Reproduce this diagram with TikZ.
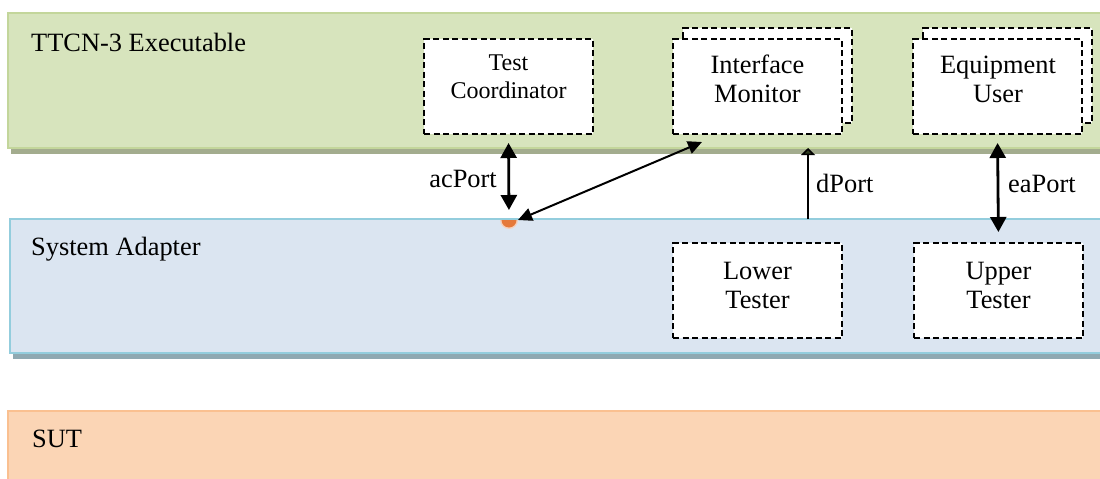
\documentclass[tikz,border=0pt]{standalone}
\usepackage{fontspec}
\setmainfont{Liberation Serif}
\usetikzlibrary{arrows.meta,calc}
\definecolor{gfill}{HTML}{D7E4BD}
\definecolor{gline}{HTML}{C3D69B}
\definecolor{gshadow}{HTML}{A3AC8E}
\definecolor{bfill}{HTML}{DBE5F1}
\definecolor{bline}{HTML}{93CDDD}
\definecolor{bshadow}{HTML}{8FA9B2}
\definecolor{ofill}{HTML}{FBD5B5}
\definecolor{oline}{HTML}{FAC090}
\definecolor{dotc}{HTML}{E5793A}
\definecolor{dhead}{HTML}{2E3A1E}
\begin{document}
\begin{tikzpicture}[x=1pt,y=-1pt,
  band/.style={anchor=north west, inner sep=0pt, outer sep=0pt, line width=2.5pt, minimum width=1110pt},
  dashbox/.style={draw=black, fill=white, line width=1.8pt, dash pattern=on 6pt off 3.5pt,
    anchor=north west, inner sep=0pt, outer sep=0pt, minimum width=169pt, minimum height=95pt},
  bigtxt/.style={font=\fontsize{26.4}{29}\selectfont, inner sep=0pt, align=center},
  smalltxt/.style={font=\fontsize{24}{28}\selectfont, inner sep=0pt, align=center},
  lbl/.style={font=\fontsize{26.4}{29}\selectfont, inner sep=0pt},
  dbl/.style={{Triangle[length=15pt,width=16pt]}-{Triangle[length=15pt,width=16pt]}, line width=2.8pt},
  diag/.style={{Triangle[length=14pt,width=13pt]}-{Triangle[length=14pt,width=13pt]}, line width=2pt},
  single/.style={-{Triangle[length=7pt,width=14pt,fill=dhead]}, line width=1.5pt}
]
\useasboundingbox (0,0) rectangle (1100,479);
\clip (0,0) rectangle (1100,479);

% shadows
\fill[gshadow] (11,147) rectangle (1110,154);
\fill[bshadow] (13,352) rectangle (1110,359);

% layers
\node[band, draw=gline, fill=gfill, minimum height=135pt] (tex) at (8,13) {};
\node[band, draw=bline, fill=bfill, minimum height=134pt] (sa) at (10,219) {};
\node[band, draw=oline, fill=ofill, minimum height=80pt] (sut) at (8,411) {};

\node[lbl, anchor=base west] (texlbl) at (31,51) {TTCN-3 Executable};
\node[lbl, anchor=base west] (salbl) at (31,255) {System Adapter};
\node[lbl, anchor=base west] (sutlbl) at (32,447) {SUT};

% components
\node[dashbox] (tc) at (424,39) {};
\node[smalltxt] (tctxt) at (508.5,77) {Test\\Coordinator};

\node[dashbox] (imback) at (683,28) {};
\node[dashbox] (im) at (673,39) {};
\node[bigtxt] (imtxt) at (757.5,79) {Interface\\Monitor};

\node[dashbox] (euback) at (923,28) {};
\node[dashbox] (eu) at (913,39) {};
\node[bigtxt] (eutxt) at (998,79) {Equipment\\User};

\node[dashbox] (lt) at (673,243) {};
\node[bigtxt] (lttxt) at (757.5,285) {Lower\\Tester};

\node[dashbox] (ut) at (914,243) {};
\node[bigtxt] (uttxt) at (998.5,285) {Upper\\Tester};

% port dot
\coordinate (acdot) at (509,220);
\fill[dotc!35] (500,220) arc (180:0:9) -- cycle;
\fill[dotc] (501.5,220) arc (180:0:7.5) -- cycle;

% connectors
\draw[dbl, shorten <=9pt, shorten >=10pt] (tc.south) -- (acdot);
\node[lbl, anchor=base east] (aclbl) at (497,187) {acPort};

\coordinate (diagA) at (702,142);
\coordinate (diagB) at (518,220);
\draw[diag] (diagA) -- (diagB);

\coordinate (dpA) at (808,219);
\coordinate (dpB) at (808,148);
\draw[single] (dpA) -- (dpB);
\node[lbl, anchor=base west] (dplbl) at (816,192) {dPort};

\draw[dbl, shorten <=9pt, shorten >=11pt] (eu.south) -- (ut.north);
\node[lbl, anchor=base west] (ealbl) at (1008,192) {eaPort};
\end{tikzpicture}
\end{document}
